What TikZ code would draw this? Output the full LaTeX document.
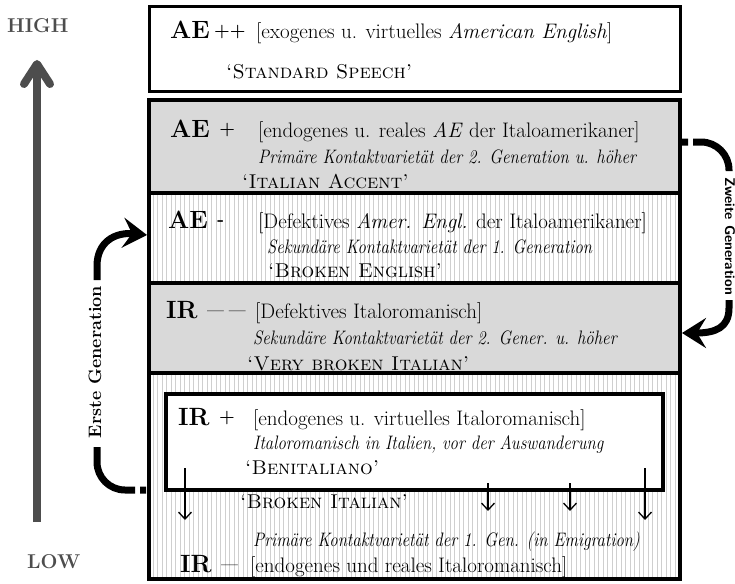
\documentclass[tikz,border=0pt]{standalone}
\usepackage{fontspec}
\usepackage{tikz}
\usetikzlibrary{arrows.meta,patterns.meta,calc}
\definecolor{cGrey}  {HTML}{D9D9D9}
\definecolor{cStripe}{HTML}{CFCFCF}
\definecolor{cAxis}  {HTML}{4D4D4D}
\newcommand{\mk}[1]{\raisebox{2.5pt}{\fontsize{18}{18}\selectfont#1}}
\newcommand{\cnd}[1]{\scalebox{0.86}[1]{#1}}
\tikzset{
  tier/.style ={draw=black,line width=4pt,inner sep=0pt,outer sep=0pt,
                minimum width=531pt,anchor=north west},
  grey/.style ={tier,fill=cGrey},
  strp/.style ={tier,preaction={fill=white},
                pattern={Lines[angle=90,distance=4.5pt,line width=0.9pt]},pattern color=cStripe},
  lvl/.style  ={anchor=base west,inner sep=0pt,font=\fontsize{25}{25}\selectfont\bfseries},
  dsc/.style  ={anchor=base west,inner sep=0pt,font=\fontsize{21}{21}\selectfont},
  sub/.style  ={anchor=base west,inner sep=0pt,font=\fontsize{19.5}{19.5}\selectfont\itshape},
  scn/.style  ={anchor=base west,inner sep=0pt,
                font=\fontsize{20}{20}\selectfont\scshape\addfontfeature{LetterSpace=10}},
  gen/.style  ={draw=black,line width=7pt},
  hop/.style  ={-{Straight Barb[length=7pt,width=13pt]},line width=1.3pt},
}

\begin{document}
\begin{tikzpicture}[x=1pt, y=-1pt,
  axis/.style={draw=cAxis,line width=8pt,-{Straight Barb[length=20pt,width=26pt,round]}},
  ends/.style={anchor=base west,inner sep=0pt,text=cAxis,font=\fontsize{20}{20}\selectfont\bfseries},
]
\useasboundingbox (0,0) rectangle (735,583);

% ===== high / low scale ==================================================
\node[ends] (high) at (7,33)  {HIGH};
\node[ends] (low)  at (27,568) {LOW};
\coordinate (axlo) at (37,522);
\coordinate (axhi) at (37,60);
\draw[axis] (axlo) -- (axhi);

% ===== tiers =============================================================
\node[tier,line width=3pt,fill=white,minimum height=85pt] (ae1) at (149,7)   {};
\node[grey,minimum height=93pt]  (ae2) at (149,100) {};
\node[strp,minimum height=90pt]  (ae3) at (149,193) {};
\node[grey,minimum height=90pt]  (ir4) at (149,283) {};
\node[strp,minimum height=206pt] (ir5) at (149,373) {};
\node[tier,fill=white,minimum width=497pt,minimum height=96pt] (irp) at (166,394) {};

% AE ++
\node[lvl] (lae1) at (170,39)  {AE\,\mk{++}};
\node[dsc] (dae1) at (256,39)  {[exogenes u. virtuelles \textit{American English}]};
\node[scn] (sae1) at (226,79)  {‘Standard Speech’};
% AE +
\node[lvl] (lae2) at (170,137) {AE \mk{+}};
\node[dsc] (dae2) at (258,137) {[endogenes u. reales \textit{AE} der Italoamerikaner]};
\node[sub] (kae2) at (258,163) {\cnd{Primäre Kontaktvarietät der 2. Generation u. höher}};
\node[scn] (sae2) at (242,188) {‘Italian Accent’};
% AE -
\node[lvl] (lae3) at (168,228) {AE \mk{-}};
\node[dsc] (dae3) at (258,228) {[Defektives \textit{Amer. Engl.} der Italoamerikaner]};
\node[sub] (kae3) at (267,253) {\cnd{Sekundäre Kontaktvarietät der 1. Generation}};
\node[scn] (sae3) at (268,277) {‘Broken English’};
% IR --
\node[lvl] (lir4) at (166,318) {IR \mk{\fontsize{15}{15}\selectfont—\,\,—}};
\node[dsc] (dir4) at (255,318) {[Defektives Italoromanisch]};
\node[sub] (kir4) at (253,344) {\cnd{Sekundäre Kontaktvarietät der 2. Gener. u. höher}};
\node[scn] (sir4) at (247,370) {‘Very broken Italian’};
% IR + (inner box)
\node[lvl] (lirp) at (178,425) {IR \mk{+}};
\node[dsc] (dirp) at (253,425) {[endogenes u. virtuelles Italoromanisch]};
\node[sub] (kirp) at (253,449) {\cnd{Italoromanisch in Italien, vor der Auswanderung}};
\node[scn] (sirp) at (245,474) {‘Benitaliano’};
% IR -
\node[scn] (sir5) at (240,508) {‘Broken Italian’};
\node[sub] (kir5) at (253,546) {\cnd{Primäre Kontaktvarietät der 1. Gen. (in Emigration)}};
\node[lvl] (lir5) at (180,572) {IR \mk{\fontsize{15}{15}\selectfont—}};
\node[dsc] (dir5) at (250,572) {[endogenes und reales Italoromanisch]};

% drift out of IR+
\draw[hop] (185,468) -- (185,520);
\draw[hop] (488,483) -- (488,511);
\draw[hop] (570,483) -- (570,511);
\draw[hop] (645,468) -- (645,520);

% ===== generations =======================================================
\node[rotate=90,inner sep=0pt,font=\fontsize{18}{18}\selectfont\bfseries] (erste) at (95,362)
  {Erste Generation};
\draw[gen,dash pattern=on 6pt off 5pt on 300pt,rounded corners=28pt]
  ($(ir5.west)+(-3,14)$) -| (97,447);
\draw[gen,-{Stealth[length=24pt,width=30pt,inset=9pt]}]
  (97,280) -- (97,266) .. controls (97,242) and (115,232) .. ($(ae3.west)+(-2,-3)$);

\node[rotate=-90,inner sep=0pt,font=\fontsize{14}{14}\selectfont\sffamily\bfseries] (zweite) at (730,236)
  {Zweite Generation};
\draw[gen,dash pattern=on 6pt off 5pt on 300pt,rounded corners=28pt]
  ($(ae2.east)+(2,-4.5)$) -| (729,171);
\draw[gen,-{Stealth[length=24pt,width=30pt,inset=9pt]}]
  (729,300) -- (729,308) .. controls (729,328) and (715,333) .. ($(ir4.east)+(2,5)$);
\end{tikzpicture}
\end{document}
